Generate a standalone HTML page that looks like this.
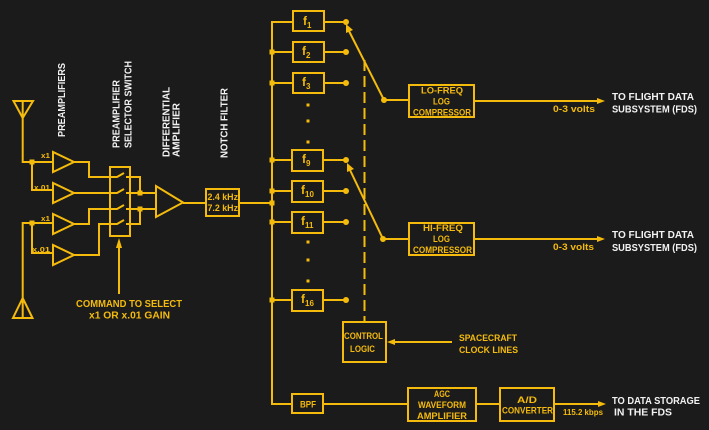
<!DOCTYPE html>
<html><head><meta charset="utf-8"><style>
html,body{margin:0;padding:0;background:#1b1b1b;}
svg{display:block;}
text{font-family:"Liberation Sans",sans-serif;font-weight:bold;}
</style></head><body>
<svg width="709" height="430" viewBox="0 0 709 430" xmlns="http://www.w3.org/2000/svg">
<rect width="709" height="430" fill="#1b1b1b"/>
<g stroke="#f5bb0c" stroke-width="2" fill="none" stroke-linejoin="miter">
<!-- antennas -->
<path d="M13.5,101 L33,101 L22.7,118 Z M22.7,101 L22.7,162 L53,162"/>
<path d="M32,162 L32,190 L53,190"/>
<path d="M13,318 L32.5,318 L22.7,298 Z M22.7,318 L22.7,223 L53,223"/>
<path d="M32,223 L32,253 L53,253"/>
<!-- preamps -->
<path d="M53,152 L53,172 L74,162 Z"/>
<path d="M53,183 L53,203 L74,193 Z"/>
<path d="M53,214 L53,234 L74,224 Z"/>
<path d="M53,245 L53,265 L74,255 Z"/>
<!-- amp outputs -->
<path d="M74,162 L89,162 L89,177 L117,177 L124,173"/>
<path d="M74,193 L117,193 L124,189"/>
<path d="M74,224 L89,224 L89,209 L117,209 L124,205"/>
<path d="M74,255 L99,255 L99,224 L117,224 L124,220"/>
<!-- switch box -->
<rect x="110" y="167" width="20" height="69"/>
<path d="M126,177 L140,177 L140,193 M126,193 L156,193 M126,209 L156,209 M140,209 L140,224 L126,224"/>
<!-- diff amp -->
<path d="M156,186 L156,217 L183,202.5 Z"/>
<path d="M183,203 L206,203"/>
<rect x="206" y="189" width="33" height="27"/>
<path d="M239,203 L272,203"/>
<!-- trunk -->
<path d="M293,22 L272,22 L272,404 L292,404"/>
<path d="M272,52 L293,52 M272,83 L293,83 M272,160 L293,160 M272,191 L293,191 M272,222 L293,222 M272,300 L293,300"/>
<!-- f boxes -->
<rect x="293" y="11" width="31" height="20"/>
<rect x="293" y="42" width="31" height="20"/>
<rect x="293" y="73" width="31" height="20"/>
<rect x="292" y="150" width="31" height="21"/>
<rect x="292" y="181" width="31" height="21"/>
<rect x="292" y="212" width="31" height="21"/>
<rect x="292" y="290" width="31" height="21"/>
<rect x="292" y="394" width="31" height="19"/>
<path d="M324,22 L346,22 M324,52 L346,52 M324,83 L346,83 M323,160 L346,160 M323,191 L346,191 M323,222 L346,222 M323,300 L346,300"/>
<!-- switch arms -->
<path d="M349,31 L384,100 L409,100"/>
<path d="M350,170 L383,239 L409,239"/>
<!-- boxes right -->
<rect x="409" y="85" width="65" height="32"/>
<rect x="409" y="223" width="65" height="32"/>
<path d="M474,101 L598,101 M474,239 L598,239"/>
<rect x="343" y="322" width="43" height="40"/>
<path d="M390,342 L452,342"/>
<path d="M323,404 L408,404"/>
<rect x="408" y="388" width="68" height="33"/>
<path d="M476,404 L500,404"/>
<rect x="500" y="388" width="54" height="33"/>
<path d="M554,404 L599,404"/>
<!-- command arrow -->
<path d="M119,294 L119,246"/>
</g>
<!-- dashed control line -->
<path d="M364.5,60 L364.5,322" stroke="#f5bb0c" stroke-width="2" stroke-dasharray="11,5" fill="none"/>
<g fill="#f5bb0c">
<!-- junction dots -->
<rect x="29.5" y="159.5" width="5" height="5"/>
<rect x="29.5" y="220.5" width="5" height="5"/>
<rect x="137.5" y="190.5" width="5" height="5"/>
<rect x="137.5" y="206.5" width="5" height="5"/>
<rect x="269.5" y="49.5" width="5" height="5"/>
<rect x="269.5" y="80.5" width="5" height="5"/>
<rect x="269.5" y="157.5" width="5" height="5"/>
<rect x="269.5" y="188.5" width="5" height="5"/>
<rect x="269.5" y="200.5" width="5" height="5"/>
<rect x="269.5" y="219.5" width="5" height="5"/>
<rect x="269.5" y="297.5" width="5" height="5"/>
<circle cx="346" cy="22" r="3"/>
<circle cx="346" cy="52" r="3"/>
<circle cx="346" cy="83" r="3"/>
<circle cx="346" cy="160" r="3"/>
<circle cx="346" cy="191" r="3"/>
<circle cx="346" cy="222" r="3"/>
<circle cx="346" cy="300" r="3"/>
<circle cx="384" cy="100" r="3"/>
<circle cx="383" cy="239" r="3"/>
<!-- dot columns -->
<rect x="306.5" y="103.5" width="3" height="3"/>
<rect x="306.5" y="119.5" width="3" height="3"/>
<rect x="306.5" y="140.5" width="3" height="3"/>
<rect x="306.5" y="240.5" width="3" height="3"/>
<rect x="306.5" y="258.5" width="3" height="3"/>
<rect x="306.5" y="279.5" width="3" height="3"/>
<!-- arrowheads -->
<polygon points="346,24 353,30 346,33"/>
<polygon points="347,163 354,169 347,172"/>
<polygon points="116,248 122,248 119,238"/>
<polygon points="597,98 605,101 597,104"/>
<polygon points="597,236 605,239 597,242"/>
<polygon points="598,401 606,404 598,407"/>
<polygon points="395,339 387,342 395,345"/>
</g>
<!-- vertical white labels -->
<g fill="#f2f2f2" font-size="10">
<text transform="translate(65,137) rotate(-90)" textLength="74" lengthAdjust="spacingAndGlyphs">PREAMPLIFIERS</text>
<text transform="translate(119.5,148) rotate(-90)" textLength="68" lengthAdjust="spacingAndGlyphs">PREAMPLIFIER</text>
<text transform="translate(131.5,148) rotate(-90)" textLength="87" lengthAdjust="spacingAndGlyphs">SELECTOR SWITCH</text>
<text transform="translate(169.5,157) rotate(-90)" textLength="70" lengthAdjust="spacingAndGlyphs">DIFFERENTIAL</text>
<text transform="translate(179.5,157) rotate(-90)" textLength="54" lengthAdjust="spacingAndGlyphs">AMPLIFIER</text>
<text transform="translate(227.5,158) rotate(-90)" textLength="70" lengthAdjust="spacingAndGlyphs">NOTCH FILTER</text>
<text x="612" y="100" textLength="82" lengthAdjust="spacingAndGlyphs">TO FLIGHT DATA</text>
<text x="612" y="112.5" textLength="85" lengthAdjust="spacingAndGlyphs">SUBSYSTEM (FDS)</text>
<text x="612" y="238" textLength="82" lengthAdjust="spacingAndGlyphs">TO FLIGHT DATA</text>
<text x="612" y="251" textLength="85" lengthAdjust="spacingAndGlyphs">SUBSYSTEM (FDS)</text>
<text x="612" y="404" textLength="88" lengthAdjust="spacingAndGlyphs">TO DATA STORAGE</text>
<text x="614" y="415.5" textLength="58" lengthAdjust="spacingAndGlyphs">IN THE FDS</text>
</g>
<!-- yellow labels -->
<g fill="#f5bb0c" font-size="9.5">
<text x="41" y="158" font-size="7.5" textLength="9" lengthAdjust="spacingAndGlyphs">x1</text>
<text x="34" y="190" font-size="7.5" textLength="16" lengthAdjust="spacingAndGlyphs">x.01</text>
<text x="41" y="221" font-size="7.5" textLength="9" lengthAdjust="spacingAndGlyphs">x1</text>
<text x="32" y="252" font-size="7.5" textLength="18" lengthAdjust="spacingAndGlyphs">x.01</text>
<text x="76" y="307" font-size="10.5" textLength="106" lengthAdjust="spacingAndGlyphs">COMMAND TO SELECT</text>
<text x="89" y="318.5" font-size="10.5" textLength="81" lengthAdjust="spacingAndGlyphs">x1 OR x.01 GAIN</text>
<text x="207.5" y="200" textLength="30.5" lengthAdjust="spacingAndGlyphs">2.4 kHz</text>
<text x="207.5" y="211" textLength="30.5" lengthAdjust="spacingAndGlyphs">7.2 kHz</text>
<text x="300" y="407.5" textLength="16" lengthAdjust="spacingAndGlyphs">BPF</text>
<text x="344" y="339" textLength="39" lengthAdjust="spacingAndGlyphs">CONTROL</text>
<text x="350" y="352" textLength="25" lengthAdjust="spacingAndGlyphs">LOGIC</text>
<text x="459" y="341" textLength="58" lengthAdjust="spacingAndGlyphs">SPACECRAFT</text>
<text x="459" y="353" textLength="59" lengthAdjust="spacingAndGlyphs">CLOCK LINES</text>
<text x="421" y="93.5" textLength="42" lengthAdjust="spacingAndGlyphs">LO-FREQ</text>
<text x="433" y="104.5" textLength="17" lengthAdjust="spacingAndGlyphs">LOG</text>
<text x="413" y="115.5" textLength="58" lengthAdjust="spacingAndGlyphs">COMPRESSOR</text>
<text x="423" y="231" textLength="40" lengthAdjust="spacingAndGlyphs">HI-FREQ</text>
<text x="433" y="242" textLength="17" lengthAdjust="spacingAndGlyphs">LOG</text>
<text x="413" y="253" textLength="59" lengthAdjust="spacingAndGlyphs">COMPRESSOR</text>
<text x="553" y="112" textLength="42" lengthAdjust="spacingAndGlyphs">0-3 volts</text>
<text x="553" y="250" textLength="41" lengthAdjust="spacingAndGlyphs">0-3 volts</text>
<text x="434" y="397" textLength="16" lengthAdjust="spacingAndGlyphs">AGC</text>
<text x="418" y="408" textLength="48" lengthAdjust="spacingAndGlyphs">WAVEFORM</text>
<text x="417" y="419" textLength="50" lengthAdjust="spacingAndGlyphs">AMPLIFIER</text>
<text x="517" y="403" textLength="20" lengthAdjust="spacingAndGlyphs">A/D</text>
<text x="502" y="413.5" textLength="51" lengthAdjust="spacingAndGlyphs">CONVERTER</text>
<text x="563" y="415" font-size="8.5" textLength="40" lengthAdjust="spacingAndGlyphs">115.2 kbps</text>
</g>
<!-- f labels -->
<g fill="#f5bb0c" font-size="12">
<text x="303" y="25">f<tspan font-size="8" dy="3">1</tspan></text>
<text x="302" y="55">f<tspan font-size="8" dy="3">2</tspan></text>
<text x="302" y="86">f<tspan font-size="8" dy="3">3</tspan></text>
<text x="302" y="163">f<tspan font-size="8" dy="3">9</tspan></text>
<text x="301" y="194">f<tspan font-size="8" dy="3">10</tspan></text>
<text x="301" y="225">f<tspan font-size="8" dy="3">11</tspan></text>
<text x="301" y="303">f<tspan font-size="8" dy="3">16</tspan></text>
</g>
</svg>
</body></html>
